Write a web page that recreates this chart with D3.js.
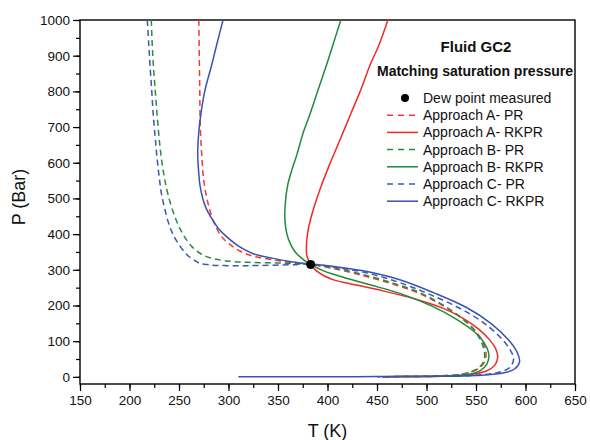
<!DOCTYPE html>
<html>
<head>
<meta charset="utf-8">
<script src="https://cdn.jsdelivr.net/npm/d3@7"></script>
<style>
  html, body { margin: 0; padding: 0; background: #fff; }
  svg { display: block; font-family: "Liberation Sans", Arial, sans-serif; }
</style>
</head>
<body>
<svg id="chart" width="590" height="440"></svg>
<script>
// ---------- data (T in K, P in bar) ----------
const xTicks = [150, 200, 250, 300, 350, 400, 450, 500, 550, 600, 650];
const yTicks = [0, 100, 200, 300, 400, 500, 600, 700, 800, 900, 1000];
const dewPoint = [383, 315];

const approachA_PR = [[270,1000],[270.5,900],[271,800],[271.5,700],[273,620],[275,550],[279,490],[285,435],[293,393],[302,370],[312,352],[325,338],[345,328],[365,320],[383,315],[405,304],[430,288],[460,265],[490,237],[515,202],[535,166],[549,130],[557,97],[560,70],[559,45],[553,24],[541,10],[520,3.5],[490,1.2],[455,0.5]];
const approachA_RKPR = [[461,1000],[452,930],[443,874],[433,800],[423,734],[412,660],[402,594],[393,530],[386,472],[381,420],[379,380],[379,342],[381,325],[383,315],[388,299],[396,284],[407,271],[423,261],[456,241],[490,217],[517,192],[537,164],[553,133],[564,103],[570,78],[572,55],[569,33],[561,17],[546,7],[520,2.5],[490,1],[455,0.5]];
const approachB_PR = [[222,1000],[223.5,900],[225.5,820],[228,730],[231,640],[234.5,570],[239,510],[247,440],[255,395],[263,365],[272,345],[282,333],[298,325],[320,321],[350,319],[383,315],[405,306],[430,291],[460,268],[490,240],[515,204],[533,170],[547,135],[555,100],[558.5,70],[558,45],[552,24],[540,10],[520,3.5],[490,1.2],[455,0.5]];
const approachB_RKPR = [[413.5,1000],[406,935],[399,874],[390,800],[382,734],[375,680],[369,622],[364,580],[360,540],[357.5,490],[357,440],[359,400],[363,370],[368,348],[375,330],[383,315],[396,297],[410,284],[440,260],[473,234],[505,199],[530,162],[548,127],[559,92],[563,62],[561,36],[554,17],[540,6],[520,2.5],[490,1],[455,0.5]];
const approachC_PR = [[218,1000],[219.5,930],[220.7,874],[222.5,800],[224,734],[226,670],[227.5,622],[230,560],[232.5,510],[239,435],[243,405],[248,379],[258,342],[265,328],[271,318],[280,314],[291,312],[310,311.5],[330,312],[362,314],[383,316],[410,306],[440,291],[473,264],[505,229],[533,193],[556,155],[573,115],[584,78],[588,50],[584,26],[570,11],[545,4],[510,1.5],[450,0.5]];
const approachC_RKPR = [[294.5,1000],[288,930],[283,874],[276,800],[272,734],[270,687],[269,640],[269,613],[270,570],[271,540],[274,500],[277,475],[283,444],[290,415],[298,393],[311,365],[325,345],[345,332],[365,322],[383,316],[410,308],[440,295],[473,272],[507,236],[540,195],[565,150],[583,103],[592,66],[594,42],[589,22],[576,10],[550,4],[515,1.5],[450,0.8],[400,0.5],[310,0.3]];

const seriesNames = ["Approach A- PR","Approach A- RKPR","Approach B- PR","Approach B- RKPR","Approach C- PR","Approach C- RKPR"];
const seriesData = [approachA_PR, approachA_RKPR, approachB_PR, approachB_RKPR, approachC_PR, approachC_RKPR];
const seriesColors = ["#ef3b36","#ef2a24","#2a8a45","#1f8a3c","#3b57b4","#3a52b2"];
const seriesDashed = [true, false, true, false, true, false];

// ---------- layout ----------
const svg = d3.select("#chart");
const mL = 80, mR = 575, mT = 20, mB = 384;
const x = d3.scaleLinear().domain([150, 650]).range([mL, mR]);
const y = d3.scaleLinear().domain([-20, 1000]).range([mB, mT]);

svg.append("defs").append("clipPath").attr("id","clip")
  .append("rect").attr("x", mL).attr("y", mT).attr("width", mR-mL).attr("height", mB-mT);

// axes
const xMinor = d3.range(150, 651, 25);
const yMinor = d3.range(0, 1001, 50);

const gx = svg.append("g").attr("transform", `translate(0,${mB})`);
gx.call(d3.axisBottom(x).tickValues(xMinor).tickSize(4).tickFormat(""));
gx.selectAll(".tick line").attr("stroke","#000").attr("stroke-width",1.2);
const gx2 = svg.append("g").attr("transform", `translate(0,${mB})`);
gx2.call(d3.axisBottom(x).tickValues(xTicks).tickSize(7).tickPadding(4).tickFormat(d3.format("d")));
gx2.selectAll(".tick line").attr("stroke","#000").attr("stroke-width",1.2);
gx2.selectAll("text").attr("font-size", 13.5).attr("fill","#111").attr("font-family","Liberation Sans, Arial, sans-serif");

const gy = svg.append("g").attr("transform", `translate(${mL},0)`);
gy.call(d3.axisLeft(y).tickValues(yMinor).tickSize(4).tickFormat(""));
gy.selectAll(".tick line").attr("stroke","#000").attr("stroke-width",1.2);
const gy2 = svg.append("g").attr("transform", `translate(${mL},0)`);
gy2.call(d3.axisLeft(y).tickValues(yTicks).tickSize(7).tickPadding(3).tickFormat(d3.format("d")));
gy2.selectAll(".tick line").attr("stroke","#000").attr("stroke-width",1.2);
gy2.selectAll("text").attr("font-size", 13.5).attr("fill","#111").attr("font-family","Liberation Sans, Arial, sans-serif");
svg.selectAll(".domain").remove();

// frame
svg.append("rect").attr("x", mL).attr("y", mT).attr("width", mR-mL).attr("height", mB-mT)
  .attr("fill","none").attr("stroke","#000").attr("stroke-width",1.4);

// axis titles
svg.append("text").attr("x", (mL+mR)/2).attr("y", 437).attr("text-anchor","middle")
  .attr("font-size", 18).attr("fill","#111").text("T (K)");
svg.append("text").attr("transform", `translate(25,197) rotate(-90)`).attr("text-anchor","middle")
  .attr("font-size", 18).attr("fill","#111").text("P (Bar)");

// curves
const line = d3.line().x(d => x(d[0])).y(d => y(d[1])).curve(d3.curveCatmullRom.alpha(0.5));
const plot = svg.append("g").attr("clip-path","url(#clip)");
seriesData.forEach((data, i) => {
  plot.append("path").datum(data)
    .attr("d", line)
    .attr("fill","none")
    .attr("stroke", seriesColors[i])
    .attr("stroke-width", 1.5)
    .attr("stroke-dasharray", seriesDashed[i] ? "6,4" : null);
});

// dew point
svg.append("circle").attr("cx", x(dewPoint[0])).attr("cy", y(dewPoint[1])).attr("r", 4.5).attr("fill","#000");

// legend
const lg = svg.append("g");
lg.append("text").attr("x", 476).attr("y", 52).attr("text-anchor","middle")
  .attr("font-size", 15).attr("font-weight","bold").attr("fill","#111").text("Fluid GC2");
lg.append("text").attr("x", 475).attr("y", 76).attr("text-anchor","middle")
  .attr("font-size", 14).attr("font-weight","bold").attr("fill","#111").text("Matching saturation pressure");

const rowY0 = 98, rowStep = 17.2, lx1 = 387, lx2 = 418, tx = 423;
lg.append("circle").attr("cx", 405).attr("cy", rowY0).attr("r", 4).attr("fill","#000");
lg.append("text").attr("x", tx).attr("y", rowY0 + 5).attr("font-size", 14).attr("fill","#111").text("Dew point measured");
seriesNames.forEach((name, i) => {
  const yy = rowY0 + rowStep * (i + 1);
  lg.append("line").attr("x1", lx1).attr("x2", lx2).attr("y1", yy).attr("y2", yy)
    .attr("stroke", seriesColors[i]).attr("stroke-width", 1.5)
    .attr("stroke-dasharray", seriesDashed[i] ? "6,5" : null);
  lg.append("text").attr("x", tx).attr("y", yy + 5).attr("font-size", 14).attr("fill","#111").text(name);
});
</script>
</body>
</html>
